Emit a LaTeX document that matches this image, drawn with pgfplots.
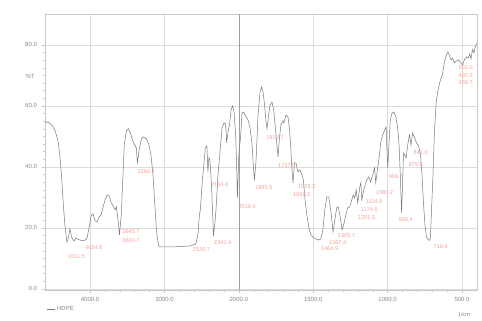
\documentclass[border=0pt]{standalone}
\usepackage{pgfplots}
\pgfplotsset{compat=1.18}
\usepackage{fontspec}
\setmainfont{Liberation Sans}
\definecolor{specline}{RGB}{120,120,120}
\definecolor{peaklbl}{RGB}{240,165,155}
\definecolor{ticktxt}{RGB}{135,135,135}
\definecolor{gridc}{RGB}{220,220,220}
\definecolor{framec}{RGB}{200,200,200}
\newcommand{\lblfont}{\fontsize{5.6}{6}\selectfont}
\newcommand{\pk}[3]{\node[anchor=west,inner sep=0pt,text=peaklbl,font=\lblfont] at (axis cs:#1,#2) {#3};}
\begin{document}
\begin{tikzpicture}
\path[fill=white] (0pt,0pt) rectangle (482pt,320pt);
\begin{axis}[
  at={(45.4pt,29.6pt)}, anchor=south west,
  scale only axis, width=431.5pt, height=276pt,
  % wavenumber axis: 2x expanded scale below 2000 1/cm
  x coord trafo/.code={\pgfmathparse{#1>2000 ? 2000+(#1-2000)/2 : #1}},
  x coord inv trafo/.code={\pgfmathparse{#1>2000 ? 2000+(#1-2000)*2 : #1}},
  x dir=reverse,
  xmin=400, xmax=4600, ymin=-0.5, ymax=90,
  xtick={4000,3000,2000,1500,1000,500},
  xticklabels={4000.0,3000.0,2000.0,1500.0,1000.0,500.0},
  ytick={0,20,40,60,80},
  yticklabels={0.0,20.0,40.0,60.0,80.0},
  minor x tick num=4, minor y tick num=7,
  tick align=outside, major tick length=3pt, minor tick length=2pt,
  xtick pos=lower, ytick pos=left,
  tick style={color=framec, line width=0.4pt},
  axis line style={draw=framec, line width=0.5pt},
  grid=major, major grid style={draw=gridc, line width=0.5pt},
  ticklabel style={font=\fontsize{6}{7}\selectfont, text=ticktxt},
  yticklabel style={xshift=-2pt},
  extra x ticks={2000}, extra x tick labels={},
  extra x tick style={major grid style={draw=gray!75, line width=0.6pt}},
  legend style={at={(axis description cs:0,-0.068)}, anchor=west, draw=none, fill=none,
    font=\fontsize{6}{7}\selectfont, text=ticktxt, inner sep=1pt},
  legend image code/.code={\draw[specline, line width=0.5pt] (0pt,0pt) -- (8pt,0pt);},
  clip=false,
]
\addplot[specline, line width=0.5pt] coordinates {
(4600,54.4) (4570,54.8) (4515,53.8) (4474,52.1) (4433,48.9) (4406,43.9) (4379,35.7)
(4359,27.5) (4338,21.0) (4311,15.4) (4291,16.7) (4271,19.7) (4244,16.7) (4216,15.7)
(4189,16.7) (4149,16.1) (4081,15.7) (4040,16.7) (4013,20.0) (3986,23.9) (3959,24.6)
(3932,22.3) (3905,22.0) (3878,23.6) (3851,24.3) (3824,26.9) (3797,29.2) (3770,30.8)
(3743,30.5) (3716,28.2) (3688,27.2) (3661,25.9) (3645,26.9) (3621,22.0) (3604,17.7)
(3580,24.3) (3560,35.7) (3540,47.2) (3512,51.8) (3485,52.5) (3458,51.1) (3431,48.9)
(3404,47.5) (3377,46.2) (3364,41.3) (3336,46.2) (3309,49.2) (3282,49.8) (3242,49.2)
(3208,47.2) (3181,43.9) (3154,37.4) (3133,29.2) (3106,18.7) (3079,14.1) (3052,13.8)
(2849,13.8) (2646,14.1) (2578,14.8) (2551,17.4) (2530,24.3) (2517,25.9) (2490,35.7)
(2470,40.7) (2450,46.2) (2429,46.9) (2416,38.4) (2402,43.0) (2389,42.3) (2368,34.1)
(2348,22.6) (2341,17.4) (2320,22.0) (2307,25.9) (2280,37.4) (2253,44.9) (2226,52.8)
(2199,54.4) (2179,54.1) (2170,51.0) (2164,47.9) (2145,51.5) (2125,53.8) (2104,58.7)
(2084,60.0) (2064,58.0) (2043,50.5) (2030,41.0) (2019,29.8) (2008,38.0) (2000,44.0)
(1988,50.0) (1978,58.0) (1964,57.7) (1951,56.4) (1938,55.4) (1924,52.8) (1911,47.2)
(1902,40.0) (1895,35.7) (1884,42.3) (1871,57.0) (1857,64.6) (1847,66.2) (1837,64.6)
(1827,60.3) (1817,54.8) (1810,52.5) (1800,57.0) (1790,60.3) (1777,61.3) (1764,58.0)
(1750,50.5) (1737,43.3) (1727,49.5) (1717,53.8) (1703,55.1) (1697,54.4) (1683,57.0)
(1670,56.4) (1660,52.8) (1650,45.6) (1643,39.0) (1636,34.8) (1626,41.3) (1616,41.3)
(1603,38.4) (1589,39.0) (1576,37.4) (1566,35.7) (1556,29.8) (1543,24.3) (1529,20.0)
(1516,17.7) (1496,16.7) (1469,16.1) (1464,16.0) (1449,16.4) (1435,19.3) (1422,25.9)
(1409,30.2) (1396,30.2) (1382,25.9) (1367,18.7) (1355,22.6) (1342,26.6) (1332,26.9)
(1321,24.3) (1306,19.3) (1295,21.0) (1281,24.3) (1268,26.6) (1254,26.9) (1241,29.2)
(1231,30.8) (1221,29.8) (1211,32.5) (1201,28.2) (1187,33.4) (1180,34.8) (1174,29.2)
(1160,32.5) (1141,35.7) (1127,36.7) (1115,35.1) (1100,37.4) (1088,39.7) (1080,34.8)
(1067,39.7) (1057,43.0) (1047,47.9) (1033,50.5) (1020,52.1) (1010,53.1) (1005,46.0)
(999,39.7) (993,45.6) (983,54.8) (973,57.4) (960,58.0) (946,56.7) (933,53.1)
(923,47.2) (916,39.0) (906,24.9) (900,34.1) (893,44.6) (875,43.0) (866,46.9)
(853,50.5) (843,47.2) (832,51.1) (819,49.5) (806,47.9) (792,46.9) (779,43.9)
(769,37.4) (759,28.2) (749,21.0) (739,17.0) (726,16.1) (719,15.9) (712,16.7)
(705,25.9) (695,37.4) (685,52.1) (672,62.0) (658,65.9) (645,68.5) (632,70.2)
(618,74.4) (605,76.7) (595,77.7) (585,76.7) (574,75.1) (564,75.7) (551,74.1)
(537,74.8) (524,75.1) (511,74.4) (497,73.4) (484,75.1) (470,76.1) (457,75.7)
(448,77.0) (439,75.5) (430,78.4) (420,77.4) (410,79.7) (400,80.5)
};
\addlegendentry{HDPE}
% peak labels
\pk{4298}{10.5}{4311.5}
\pk{4068}{13.4}{4024.6}
\pk{3567}{18.7}{3645.7}
\pk{3567}{15.7}{3604.7}
\pk{3363}{38.4}{3364.1}
\pk{2619}{12.8}{2530.7}
\pk{2334}{15.1}{2341.4}
\pk{2375}{34.1}{2164.6}
\pk{2009}{26.9}{2019.4}
\pk{1891}{33.1}{1895.5}
\pk{1817}{49.5}{1810.7}
\pk{1737}{40.3}{1737.5}
\pk{1603}{33.4}{1576.3}
\pk{1636}{30.8}{1636.2}
\pk{1449}{13.1}{1464.9}
\pk{1395}{15.1}{1367.4}
\pk{1335}{17.4}{1305.7}
\pk{1201}{23.3}{1201.3}
\pk{1181}{25.9}{1174.6}
\pk{1147}{28.5}{1114.9}
\pk{1080}{31.5}{1080.2}
\pk{993}{36.7}{999.3}
\pk{926}{22.6}{906.4}
\pk{859}{40.7}{875.6}
\pk{826}{44.6}{841.0}
\pk{692}{13.8}{719.4}
\pk{524}{72.5}{551.0}
\pk{524}{69.8}{497.3}
\pk{524}{67.5}{439.7}
\end{axis}
\node[font=\fontsize{6}{7}\selectfont, text=ticktxt] at (30pt,244pt) {\%T};
\node[font=\fontsize{5.6}{6}\selectfont, text=ticktxt] at (464pt,5pt) {1/cm};
\end{tikzpicture}
\end{document}
